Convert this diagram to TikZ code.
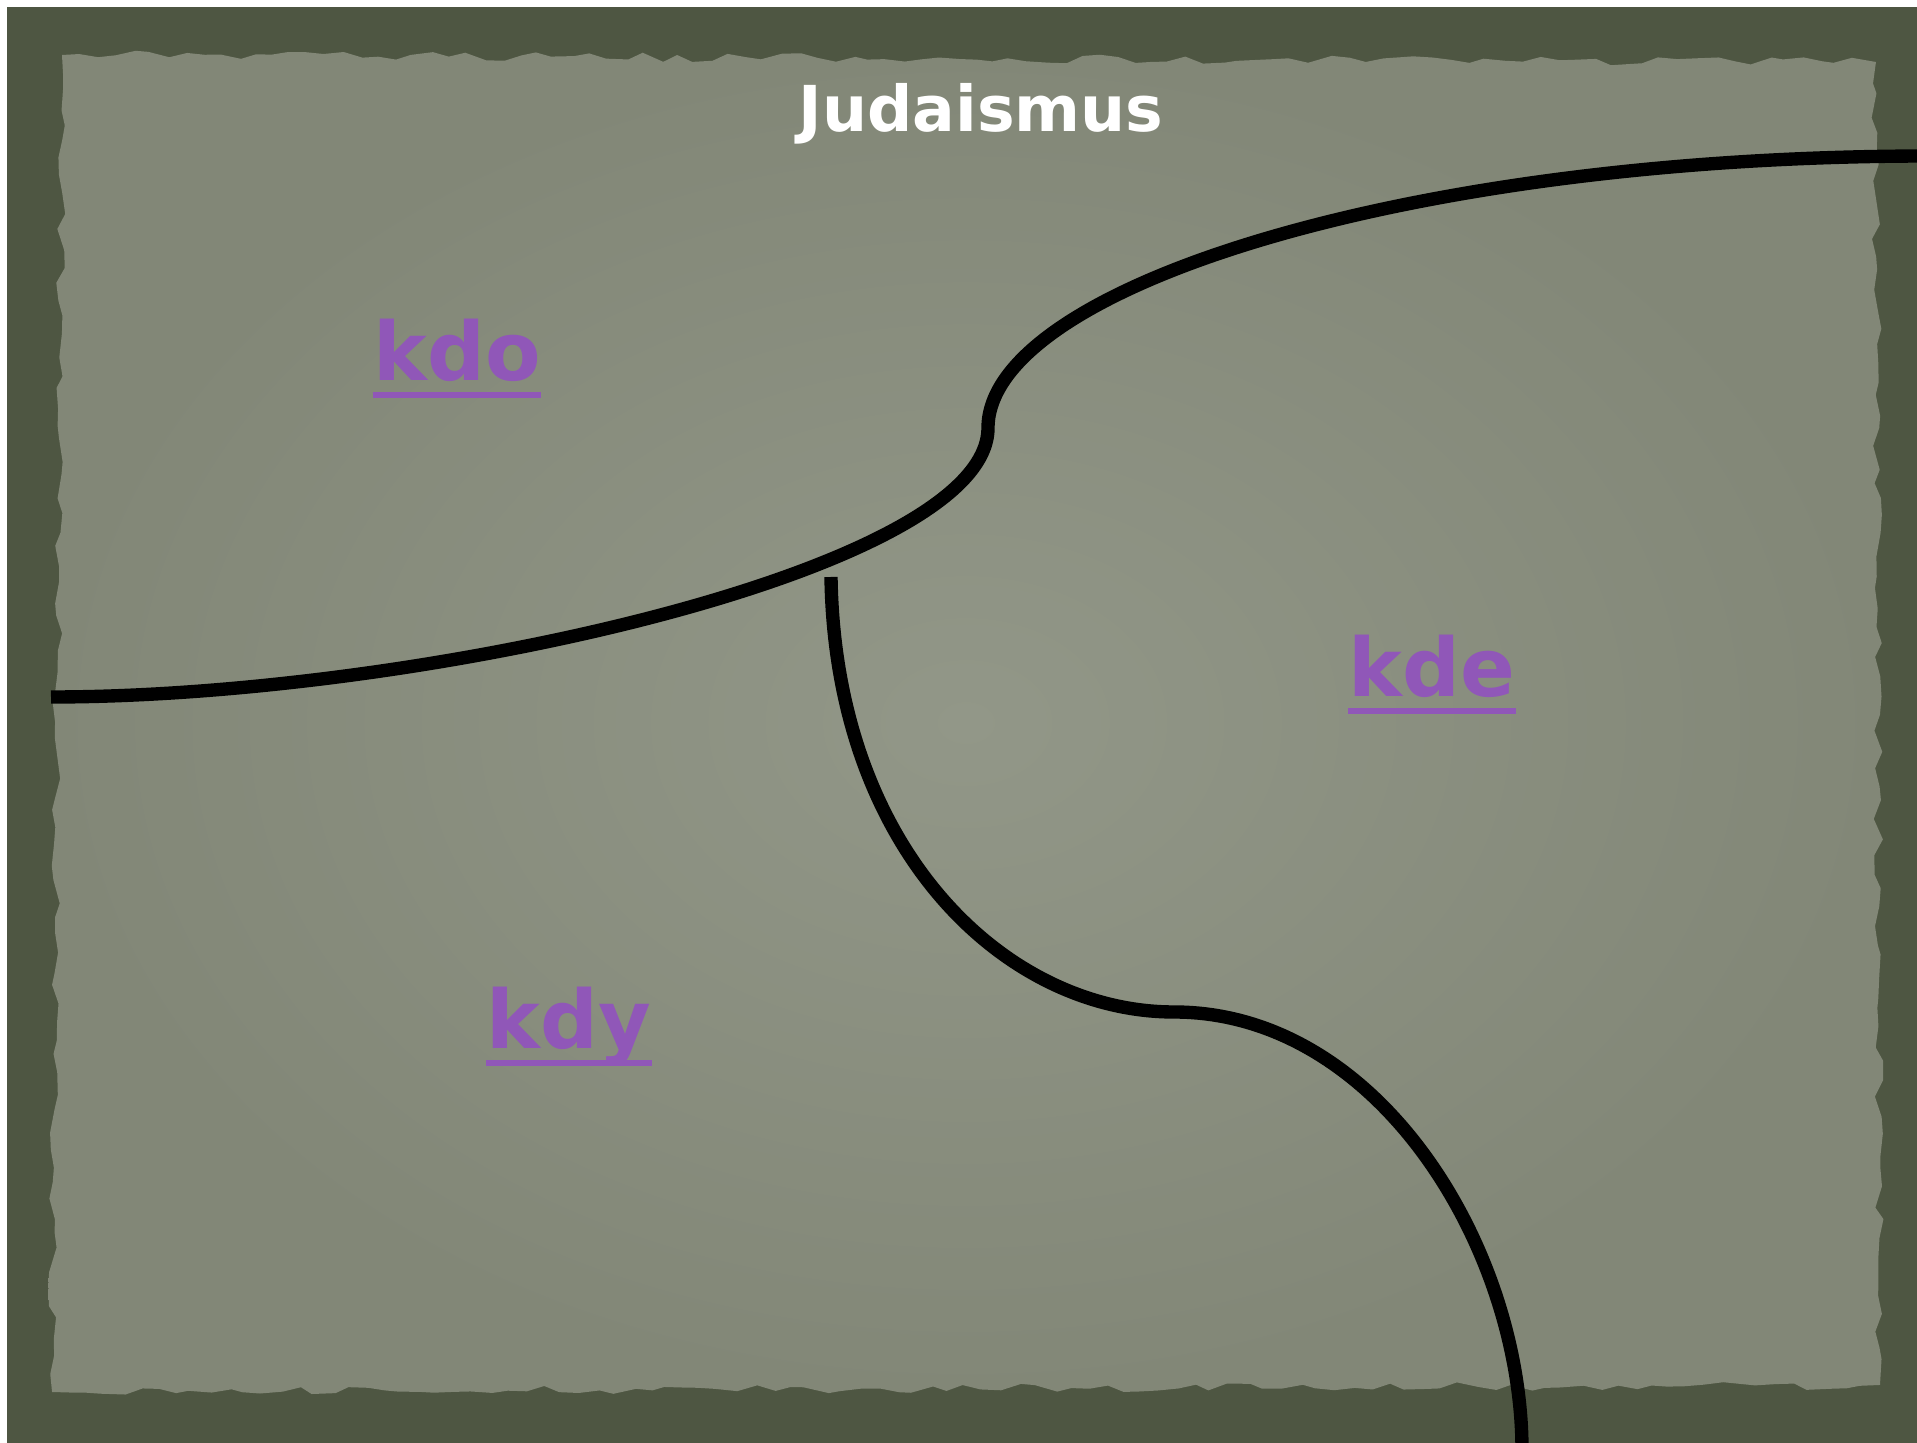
\documentclass[tikz,border=0pt]{standalone}
\usepackage{fontspec}
\setmainfont{DejaVu Sans}
\usepackage{tikz}
\usetikzlibrary{decorations.pathmorphing}

\definecolor{frame}{RGB}{78,86,66}
\definecolor{paper}{RGB}{130,135,119}
\definecolor{paperhi}{RGB}{146,151,136}
\definecolor{lila}{RGB}{144,87,184}

\begin{document}
\begin{tikzpicture}[x=0.01cm, y=-0.01cm,
    title/.style={text=white, font=\bfseries\fontsize{18}{20}\selectfont, inner sep=0pt, anchor=base},
    lbl/.style={text=lila, font=\bfseries\fontsize{23}{26}\selectfont, inner sep=0pt, anchor=base},
    uline/.style={draw=lila, line width=1.7pt},
    border/.style={line width=3.8pt, black}]
        \useasboundingbox (0,0) rectangle (1917,1443);
        \pgfmathsetseed{7}

        % Paper
        \fill[white] (0,0) rectangle (1917,1443);
        \fill[frame] (7,7) rectangle (1917,1443);
        \shade[inner color=paperhi, outer color=paper, decorate,
            decoration={random steps, segment length=5pt, amplitude=1.3pt}]
            (62,55) -- (1876,62) -- (1880,1385) -- (52,1392) -- cycle;

        % Title
        \node[title] (jud) at (981,132) {Judaismus};

        % Labels
        \node[lbl] (kdo) at (457,381) {kdo};
        \node[lbl] (kde) at (1432,697) {kde};
        \node[lbl] (kdy) at (569,1049) {kdy};
        \foreach \n in {kdo, kde, kdy}
            \draw[uline] ([yshift=-4pt]\n.base west) -- ([yshift=-4pt]\n.base east);

        % Dividing lines
        \draw[border] (51,697) .. controls (420,697) and (988,570) .. (988,428)
            .. controls (988,290) and (1400,156) .. (1930,156);
        \draw[border] (831,577) .. controls (835,850) and (1005,1012) .. (1174,1012)
            .. controls (1380,1012) and (1522,1250) .. (1522,1450);
    \end{tikzpicture}
\end{document}
